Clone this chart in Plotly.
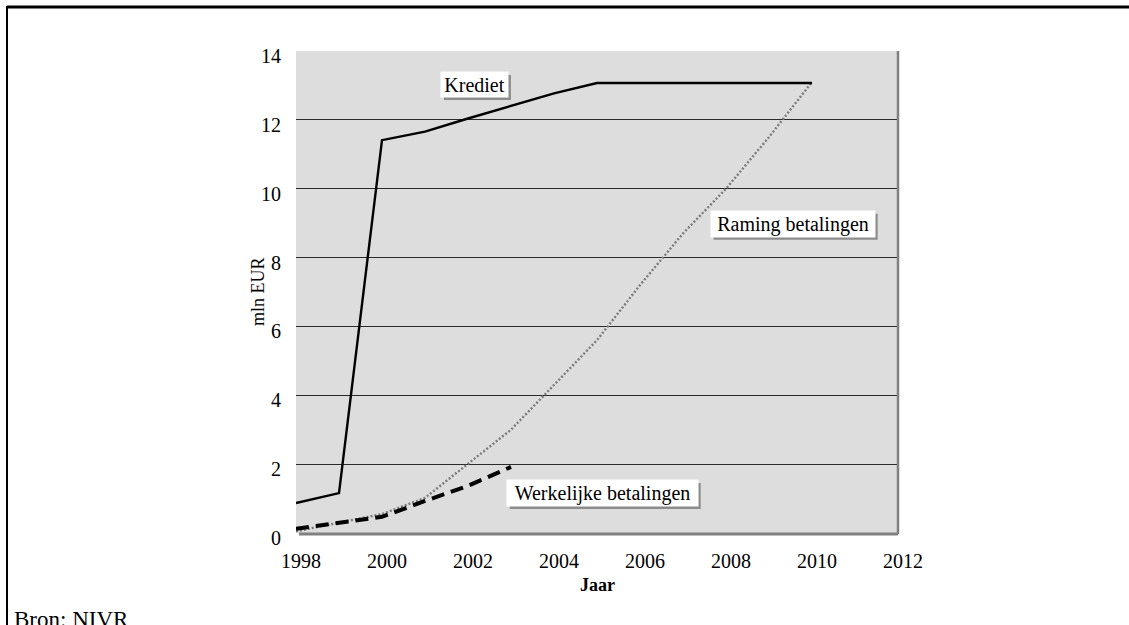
import plotly.graph_objects as go

# Jaren en reeksen (mln EUR)
jaren = [1998, 1999, 2000, 2001, 2002, 2003, 2004, 2005, 2006, 2007, 2008, 2009, 2010]
krediet = [0.87, 1.16, 11.41, 11.66, 12.04, 12.40, 12.77, 13.07, 13.07, 13.07, 13.07, 13.07, 13.07]
raming_betalingen = [0.05, 0.29, 0.55, 1.02, 2.0, 3.0, 4.3, 5.6, 7.2, 8.7, 10.0, 11.5, 13.1]

jaren_werkelijk = [1998, 1999, 2000, 2001, 2002, 2003]
werkelijke_betalingen = [0.12, 0.30, 0.47, 0.93, 1.37, 1.92]

x_ticks = [1998, 2000, 2002, 2004, 2006, 2008, 2010, 2012]
y_ticks = [0, 2, 4, 6, 8, 10, 12, 14]

# Labels bij de lijnen: (tekst, x, y, breedte px, hoogte px)
lijnlabels = [
    ("Krediet", 2002.15, 13.03, 67, 25),
    ("Raming betalingen", 2009.55, 8.98, 164, 26),
    ("Werkelijke betalingen", 2005.12, 1.16, 191, 26),
]

FONT = "Liberation Serif, Times New Roman, serif"

fig = go.Figure()

fig.add_trace(go.Scatter(
    x=jaren, y=raming_betalingen, mode="lines", name="Raming betalingen",
    line=dict(color="#7a7a7a", width=2.4, dash="2px,2px"),
))
fig.add_trace(go.Scatter(
    x=jaren_werkelijk, y=werkelijke_betalingen, mode="lines", name="Werkelijke betalingen",
    line=dict(color="black", width=4, dash="13px,7px"),
))
fig.add_trace(go.Scatter(
    x=jaren, y=krediet, mode="lines", name="Krediet",
    line=dict(color="black", width=2.4),
))

annotations = []
shapes = []
for tekst, lx, ly, bw, bh in lijnlabels:
    # schaduw rechtsonder het label
    shapes.append(dict(
        type="rect", xref="x", yref="y", xsizemode="pixel", ysizemode="pixel",
        xanchor=lx, yanchor=ly,
        x0=-bw / 2 + 3, x1=bw / 2 + 3, y0=-bh / 2 - 3, y1=bh / 2 - 3,
        fillcolor="#8c8c8c", line=dict(width=0), layer="above",
    ))
    annotations.append(dict(
        x=lx, y=ly, xref="x", yref="y", text=tekst, showarrow=False,
        width=bw - 2, height=bh - 2, borderpad=1,
        font=dict(family=FONT, size=20, color="black"),
        bgcolor="white",
    ))

# Asbenamingen
annotations.append(dict(
    x=(258 - 296) / 602, y=0.5, xref="paper", yref="paper",
    xanchor="center", yanchor="middle",
    text="mln EUR", textangle=-90, showarrow=False,
    font=dict(family=FONT, size=18, color="black"),
))
annotations.append(dict(
    x=0.5, y=0, xref="paper", yref="paper", xanchor="center", yanchor="middle",
    text="<b>Jaar</b>", showarrow=False, yshift=-52,
    font=dict(family=FONT, size=18, color="black"),
))

# Bron
annotations.append(dict(
    x=(12 - 296) / 602, y=(533 - 634) / 482, xref="paper", yref="paper",
    xanchor="left", yanchor="bottom", text="Bron: NIVR", showarrow=False,
    font=dict(family=FONT, size=23, color="black"),
))
# Titel (bovenaan het blad)
annotations.append(dict(
    x=(26 - 296) / 602, y=(533 + 1) / 482, xref="paper", yref="paper",
    xanchor="left", yanchor="bottom",
    text="<b>Figuur 5.1 Stand van het krediet en de betalingen voor het NIVR-project</b>",
    showarrow=False, yshift=-3,
    font=dict(family=FONT, size=20, color="black"),
))

shapes += [
    # kader rond de figuur
    dict(type="line", xref="paper", yref="paper",
         x0=(7 - 296) / 602, x1=(1135 - 296) / 602,
         y0=(533 - 7) / 482, y1=(533 - 7) / 482,
         line=dict(color="black", width=3)),
    dict(type="line", xref="paper", yref="paper",
         x0=(7 - 296) / 602, x1=(7 - 296) / 602,
         y0=(533 - 6) / 482, y1=(533 - 640) / 482,
         line=dict(color="black", width=2)),
    # rand van het tekengebied
    dict(type="line", xref="paper", yref="paper", x0=0.005, x1=1.0, y0=-0.002, y1=-0.002,
         line=dict(color="#808080", width=3), layer="above"),
    dict(type="line", xref="paper", yref="paper", x0=1.0, x1=1.0, y0=-0.002, y1=1.0,
         line=dict(color="#808080", width=2.5), layer="above"),
]

fig.update_layout(
    width=1129, height=625,
    margin=dict(l=296, r=231, t=51, b=92),
    paper_bgcolor="white",
    plot_bgcolor="#dddddd",
    showlegend=False,
    font=dict(family=FONT, size=20, color="black"),
    annotations=annotations,
    shapes=shapes,
    xaxis=dict(
        range=[1998, 2012], tickvals=x_ticks, ticktext=[str(v) for v in x_ticks],
        showgrid=False, zeroline=False, showline=False, ticks="",
        tickfont=dict(family=FONT, size=20), ticklabelstandoff=14, ticklabelshift=5,
    ),
    yaxis=dict(
        range=[0, 14], tickvals=y_ticks, ticktext=[str(v) for v in y_ticks],
        showgrid=True, gridcolor="#2a2a2a", gridwidth=1.2, zeroline=False,
        showline=False, ticks="",
        tickfont=dict(family=FONT, size=20), ticklabelstandoff=14, ticklabelshift=5,
    ),
)

fig.write_html("out.html")
